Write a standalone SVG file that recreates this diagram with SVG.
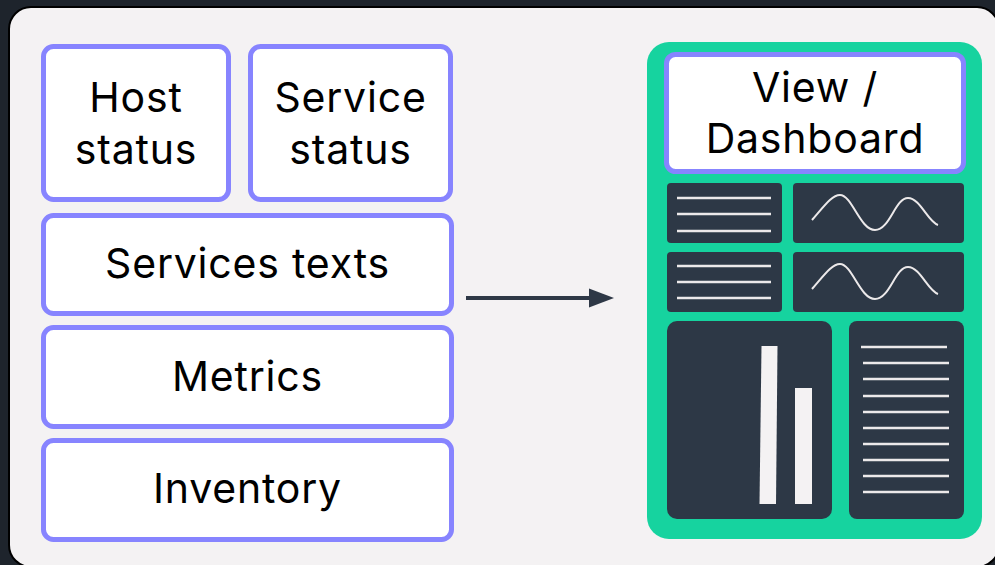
<svg xmlns="http://www.w3.org/2000/svg" width="995" height="565" viewBox="0 0 995 565">
<defs>
<style>
.node rect.box{fill:#ffffff;stroke:#8784ff;stroke-width:5}
.lbl{font-family:Inter,"Noto Sans","Liberation Sans",sans-serif;font-size:41px;letter-spacing:0.8px;fill:#000;text-anchor:middle}
.dark{fill:#2d3846}
.ln{stroke:#ece9ea;stroke-width:2.5;fill:none}
.wave{stroke:#ece9ea;stroke-width:2;fill:none}
</style>
<marker id="arr" markerWidth="10" markerHeight="10" refX="0" refY="5" orient="auto" markerUnits="userSpaceOnUse" viewBox="0 0 10 10" overflow="visible">
<path d="M0,-4.5 L25,5 L0,14.5 Z" fill="#2e3846"/>
</marker>
</defs>
<rect x="0" y="0" width="995" height="565" fill="#1e242c"/>
<rect x="9" y="7" width="990" height="560" rx="22" fill="#f4f2f3" stroke="#000" stroke-width="2"/>

<g id="host-status" class="node">
<rect class="box" x="43.5" y="46.5" width="185" height="153" rx="10"/>
<text class="lbl" x="136" y="112">Host</text>
<text class="lbl" x="136" y="164">status</text>
</g>
<g id="service-status" class="node">
<rect class="box" x="250.5" y="46.5" width="200" height="153" rx="10"/>
<text class="lbl" x="350.5" y="112">Service</text>
<text class="lbl" x="350.5" y="164">status</text>
</g>
<g id="services-texts" class="node">
<rect class="box" x="43.5" y="215.5" width="408" height="98" rx="10"/>
<text class="lbl" x="247.5" y="278">Services texts</text>
</g>
<g id="metrics" class="node">
<rect class="box" x="43.5" y="327.5" width="408" height="99" rx="10"/>
<text class="lbl" x="247.5" y="391">Metrics</text>
</g>
<g id="inventory" class="node">
<rect class="box" x="43.5" y="440.5" width="408" height="99" rx="10"/>
<text class="lbl" x="247.5" y="503">Inventory</text>
</g>

<g id="connectors">
<line x1="466" y1="298" x2="589" y2="298" stroke="#2e3846" stroke-width="4" marker-end="url(#arr)"/>
</g>

<g id="dashboard" class="node">
<rect x="647" y="42" width="335" height="497" rx="22" fill="#16d39f"/>
<rect class="box" x="666.5" y="54.5" width="297" height="117" rx="9"/>
<text class="lbl" x="815" y="102">View /</text>
<text class="lbl" x="815" y="153">Dashboard</text>
<rect class="dark" x="667" y="183" width="115" height="60" rx="4"/>
<rect class="dark" x="793" y="183" width="171" height="60" rx="4"/>
<rect class="dark" x="667" y="252" width="115" height="60" rx="4"/>
<rect class="dark" x="793" y="252" width="171" height="60" rx="4"/>
<rect class="dark" x="667" y="321" width="165" height="198" rx="10"/>
<rect class="dark" x="849" y="321" width="115" height="198" rx="8"/>
<path class="ln" d="M677 198H771M677 214H771M677 231H771M677 266H771M677 282H771M677 298H771"/>
<path class="wave" d="M812 220 C825 205,832 195,840 195 C852 195,860 230,875 230 C890 230,895 198,908 198 C920 198,928 222,938 225"/>
<path class="wave" d="M812 289 C825 274,832 264,840 264 C852 264,860 299,875 299 C890 299,895 267,908 267 C920 267,928 291,938 294"/>
<polygon points="761.5,346 777.5,346 776,504 759.5,504" fill="#f4f2f3"/>
<rect x="795" y="388" width="17" height="116" fill="#f4f2f3"/>
<path class="ln" d="M861 347H947M863 363H949M863 379H949M863 396H949M863 412H949M863 428H949M863 444H949M863 460H949M863 476H949M863 492H949"/>
</g>
</svg>
